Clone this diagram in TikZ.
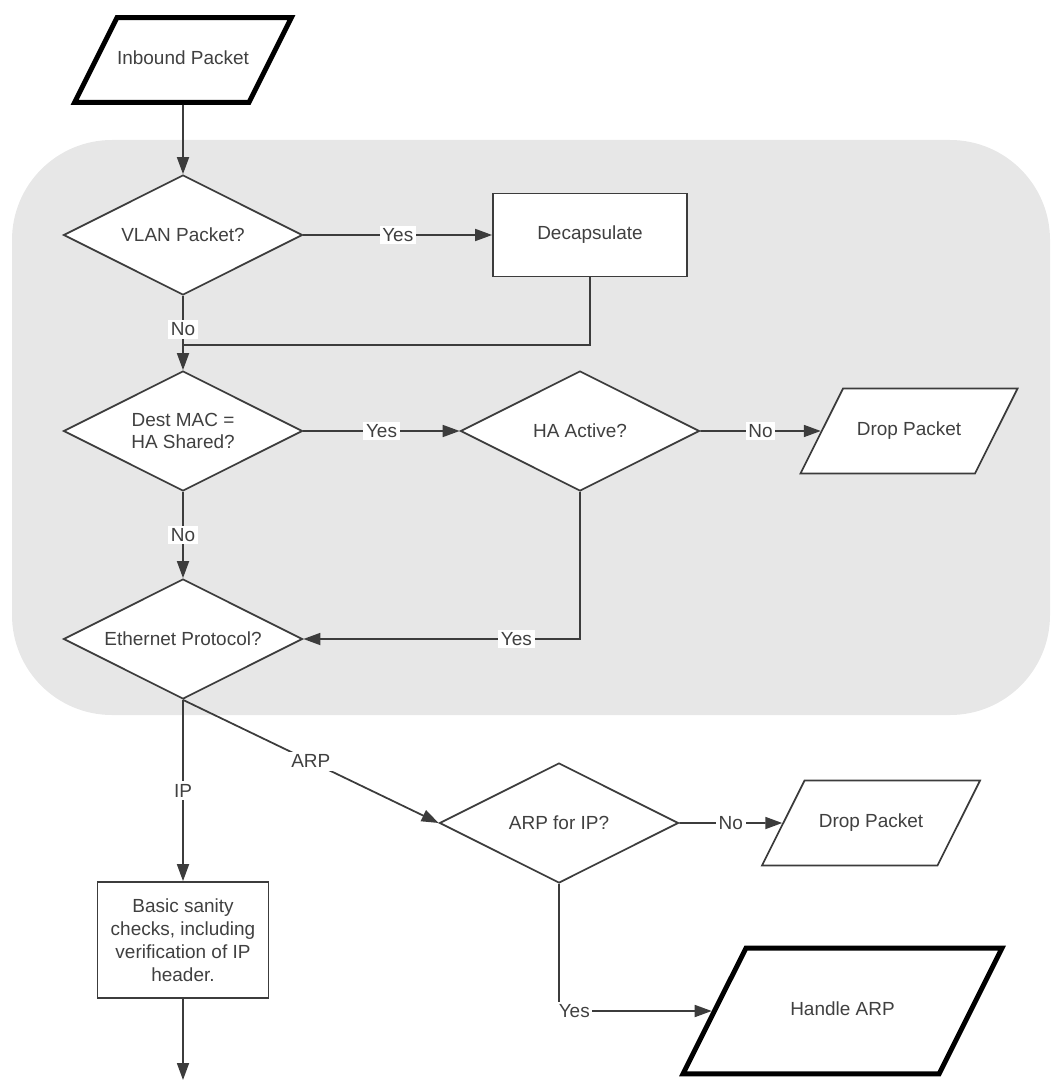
\documentclass[tikz,border=0pt]{standalone}
\usepackage{fontspec}
\setmainfont{Liberation Sans}
\usetikzlibrary{shapes.geometric,arrows.meta}
\definecolor{linegray}{HTML}{3C3C3C}
\definecolor{textgray}{HTML}{404040}
\definecolor{zonegray}{HTML}{E7E7E7}

\begin{document}
\begin{tikzpicture}[>={Triangle[length=3.4mm,width=2.4mm]},line width=1pt,color=linegray,text=textgray,
        font=\fontsize{10.8}{13}\selectfont,
        decision/.style={diamond,draw,fill=white,inner sep=0pt,shape aspect=2,minimum width=4.78cm,minimum height=2.4cm,align=center},
        process/.style={rectangle,draw,fill=white,align=center},
        io/.style={trapezium,trapezium left angle=63.4,trapezium right angle=116.6,trapezium stretches body,
            draw,fill=white,align=center,text height=7.5pt,text depth=2pt,inner xsep=0pt,inner ysep=19.4pt},
        heavy/.style={io,draw=black,line width=2.8pt},
        answer/.style={fill=white,inner sep=1.5pt}]
        \useasboundingbox (0,0) rectangle (21.06,-21.8);
        \fill [zonegray,rounded corners=2cm] (0.24,-2.8) rectangle (21.0,-14.3);

        \node [heavy,minimum width=4.3cm] (inbound) at (3.66,-1.2) {Inbound Packet};
        \node [decision] (vlan) at (3.66,-4.7) {VLAN Packet?};
        \node [process,minimum width=3.88cm,minimum height=1.66cm] (decap) at (11.8,-4.7) {Decapsulate};
        \node [decision] (dest) at (3.66,-8.62) {Dest MAC =\\HA Shared?};
        \node [decision] (active) at (11.6,-8.62) {HA Active?};
        \node [io,minimum width=4.34cm] (dropha) at (18.18,-8.62) {Drop Packet};
        \node [decision] (proto) at (3.66,-12.78) {Ethernet Protocol?};
        \node [decision] (arpip) at (11.18,-16.46) {ARP for IP?};
        \node [io,minimum width=4.36cm] (droparp) at (17.42,-16.46) {Drop Packet};
        \node [process,minimum width=3.42cm,minimum height=2.32cm] (sanity) at (3.66,-18.8)
            {Basic sanity\\checks, including\\verification of IP\\header.};
        \node [heavy,minimum width=6.38cm,inner ysep=31pt] (handle) at (16.85,-20.22) {Handle ARP};
        \coordinate (merge) at (3.66,-6.9);
        \coordinate (exit) at (3.66,-21.6);

        \draw [->] (inbound) -- (vlan);
        \draw [->] (vlan) -- node [answer] {Yes} (decap);
        \draw (decap) |- (merge);
        \draw [->] (vlan) -- node [answer,pos=.45] {No} (dest);
        \draw [->] (dest) -- node [answer] {Yes} (active);
        \draw [->] (active) -- node [answer] {No} (dropha);
        \draw [->] (dest) -- node [answer] {No} (proto);
        \draw [->] (active) |- node [answer,pos=.615] {Yes} (proto);
        \draw [->] (proto) -- node [answer] {IP} (sanity);
        \draw [->] (proto.south) -- node [answer] {ARP} (arpip.west);
        \draw [->] (arpip) -- node [answer] {No} (droparp);
        \draw [->] (arpip) |- node [answer,pos=.55] {Yes} (handle);
        \draw [->] (sanity) -- (exit);
    \end{tikzpicture}
\end{document}
